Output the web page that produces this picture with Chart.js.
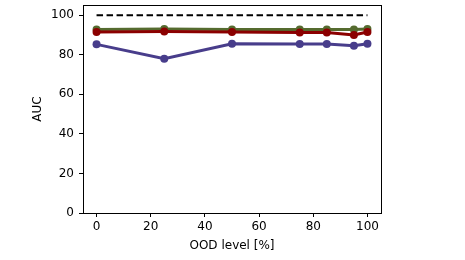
<!DOCTYPE html>
<html><head><meta charset="utf-8">
<script src="https://cdn.jsdelivr.net/npm/chart.js@4/dist/chart.umd.min.js"></script>
<style>html,body{margin:0;padding:0;background:#fff;}#wrap{width:465px;height:260px;}</style>
</head><body><div id="wrap"><canvas id="c" width="465" height="260"></canvas></div>
<script>
const oodLevels = [0, 25, 50, 75, 85, 95, 100];
const greenAUC = [92.8, 93.0, 92.8, 92.8, 92.8, 92.8, 93.0];
const redAUC = [91.5, 91.8, 91.5, 91.3, 91.3, 90.0, 91.5];
const purpleAUC = [85.3, 78.0, 85.6, 85.5, 85.5, 84.6, 85.6];
const refLevel = [100, 100];
const refX = [0, 100];
const xTicks = [0, 20, 40, 60, 80, 100];
const yTicks = [0, 20, 40, 60, 80, 100];

const pts = (xs, ys) => xs.map((x, i) => ({x: x, y: ys[i]}));
const font = {family: 'DejaVu Sans', size: 12};

const frame = {
  id: 'frame',
  afterDatasetsDraw(chart) {
    const a = chart.chartArea, ctx = chart.ctx;
    ctx.save();
    ctx.strokeStyle = '#000';
    ctx.lineWidth = 1;
    ctx.strokeRect(Math.round(a.left) + 0.5, Math.round(a.top) + 0.5, Math.round(a.right - a.left), Math.round(a.bottom - a.top));
    ctx.restore();
  }
};

function lineDs(data, color, order) {
  return {data: data, borderColor: color, backgroundColor: color, borderWidth: 3, order: order,
    pointRadius: 4, pointHoverRadius: 4, pointBorderWidth: 0, tension: 0};
}

new Chart(document.getElementById('c'), {
  type: 'line',
  data: {datasets: [
    {data: pts(refX, refLevel), borderColor: '#000', borderWidth: 2, borderDash: [6.5, 3.5], pointRadius: 0, order: 4},
    lineDs(pts(oodLevels, greenAUC), '#556b2f', 3),
    lineDs(pts(oodLevels, redAUC), '#8b0000', 2),
    lineDs(pts(oodLevels, purpleAUC), '#483d8b', 1)
  ]},
  options: {
    responsive: false, animation: false, devicePixelRatio: 1,
    layout: {padding: {left: 0, top: 5, right: 84, bottom: 0}},
    plugins: {legend: {display: false}, tooltip: {enabled: false}},
    scales: {
      x: {type: 'linear', min: -5, max: 105,
        afterBuildTicks: s => { s.ticks = xTicks.map(v => ({value: v})); },
        afterFit: s => { s.height = 47; s.paddingLeft = 0; s.paddingRight = 0; },
        grid: {drawOnChartArea: false, tickLength: 4, tickColor: '#000', color: '#000'},
        border: {display: true, color: '#000'},
        ticks: {color: '#000', font: font, padding: 3, maxRotation: 0},
        title: {display: true, text: 'OOD level [%]', color: '#000', font: font, padding: {top: 0, bottom: 7}}
      },
      y: {type: 'linear', min: 0, max: 105.2,
        afterBuildTicks: s => { s.ticks = yTicks.map(v => ({value: v})); },
        afterFit: s => { s.width = 83; s.paddingTop = 0; s.paddingBottom = 0; },
        grid: {drawOnChartArea: false, tickLength: 4, tickColor: '#000', color: '#000'},
        border: {display: true, color: '#000'},
        ticks: {color: '#000', font: font, padding: 5},
        title: {display: true, text: 'AUC', color: '#000', font: font, padding: {top: 31, bottom: 0}}
      }
    }
  },
  plugins: [frame]
});
</script></body></html>
